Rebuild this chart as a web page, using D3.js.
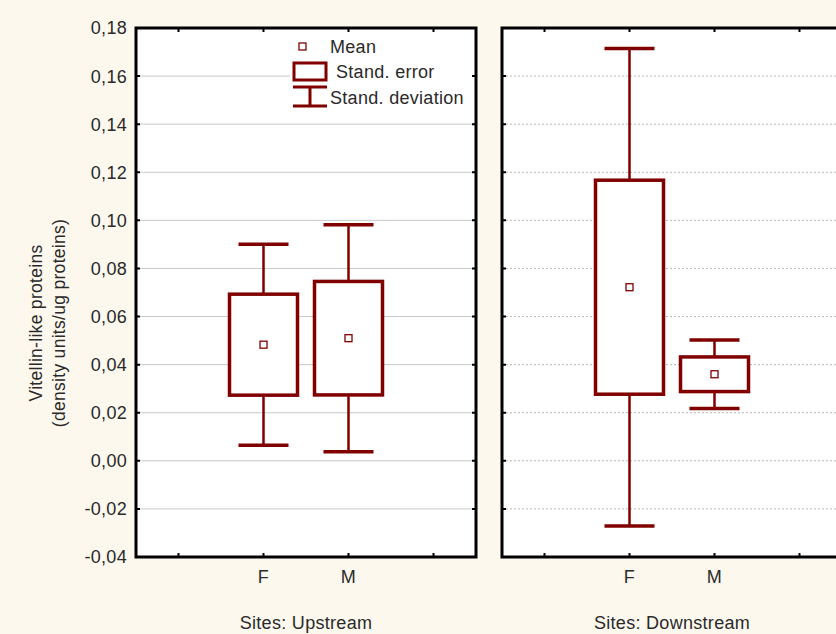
<!DOCTYPE html>
<html>
<head>
<meta charset="utf-8">
<script src="https://cdn.jsdelivr.net/npm/d3@7"></script>
<style>
  html, body { margin: 0; padding: 0; background: #fdf8ee; }
  svg { display: block; }
  text { font-family: "Liberation Sans", Arial, sans-serif; fill: #2a2a2a; font-size: 18px; letter-spacing: 0.3px; }
</style>
</head>
<body>
<svg id="chart" width="836" height="634"></svg>
<script>
// Vitellin-like proteins by site and sex: mean, standard error, standard deviation
const sites = ["Upstream", "Downstream"];
const sexes = ["F", "M"];
const means  = [[0.0483, 0.0510], [0.0722, 0.0360]];
const stdErr = [[0.0210, 0.0236], [0.0445, 0.0072]];
const stdDev = [[0.0418, 0.0472], [0.0993, 0.0142]];
const yTicks = [-0.04, -0.02, 0.00, 0.02, 0.04, 0.06, 0.08, 0.10, 0.12, 0.14, 0.16, 0.18];
const xSlots = ["lo", "F", "M", "hi"];

const red = "#800000";
const svg = d3.select("#chart");

const plotTop = 28, plotBottom = 557, panelW = 340;
const panelLeft = [136, 502];

const y = d3.scaleLinear().domain([-0.04, 0.18]).range([plotBottom, plotTop]);
const locale = d3.formatLocale({decimal: ",", thousands: ".", grouping: [3], currency: ["", ""], minus: "-"});
const fmt = locale.format(".2f");

// y tick labels
svg.append("g").selectAll("text").data(yTicks).join("text")
  .attr("x", 127).attr("y", d => y(d)).attr("dy", "0.36em")
  .attr("text-anchor", "end")
  .text(d => fmt(d));

// y axis title
const yTitle = svg.append("text")
  .attr("transform", "translate(36,323) rotate(-90)")
  .attr("text-anchor", "middle").style("font-size", "17.5px");
yTitle.append("tspan").attr("x", 0).attr("dy", "0.36em").text("Vitellin-like proteins");
yTitle.append("tspan").attr("x", 0).attr("dy", "1.3em").text("(density units/ug proteins)");

sites.forEach((site, si) => {
  const x0 = panelLeft[si];
  const x = d3.scalePoint().domain(xSlots).range([x0, x0 + panelW]).padding(0.5);
  const g = svg.append("g");

  g.append("rect").attr("x", x0).attr("y", plotTop).attr("width", panelW).attr("height", plotBottom - plotTop)
    .attr("fill", "#fff");

  // horizontal grid
  g.append("g").selectAll("line").data(yTicks.slice(1, -1)).join("line")
    .attr("x1", x0).attr("x2", x0 + panelW)
    .attr("y1", d => y(d)).attr("y2", d => y(d))
    .attr("stroke", si === 0 ? "#c9c9c9" : "#b8b8b8")
    .attr("stroke-width", 1)
    .attr("stroke-dasharray", si === 0 ? null : "2,2");

  // inward ticks on left and right edges
  g.append("g").selectAll("path").data(yTicks.slice(1, -1)).join("path")
    .attr("d", d => `M${x0},${y(d)}h4M${x0 + panelW},${y(d)}h-4`)
    .attr("stroke", "#000").attr("stroke-width", 2);

  // inward ticks on top and bottom edges
  g.append("g").selectAll("path").data(xSlots).join("path")
    .attr("d", d => `M${x(d)},${plotTop}v4M${x(d)},${plotBottom}v-4`)
    .attr("stroke", "#000").attr("stroke-width", 2);

  // category labels
  g.append("g").selectAll("text").data(sexes).join("text")
    .attr("x", d => x(d)).attr("y", 577).attr("dy", "0.36em")
    .attr("text-anchor", "middle")
    .text(d => d);

  g.append("text").attr("x", x0 + panelW / 2).attr("y", 623).attr("dy", "0.36em")
    .attr("text-anchor", "middle")
    .text("Sites: " + site);

  // whiskers, SE boxes and means
  const items = sexes.map((s, i) => ({s, m: means[si][i], se: stdErr[si][i], sd: stdDev[si][i]}));
  const boxW = 68, capW = 50;
  const mk = g.append("g").selectAll("g").data(items).join("g");
  mk.append("path")
    .attr("d", d => `M${x(d.s)},${y(d.m + d.sd)}V${y(d.m + d.se)}M${x(d.s)},${y(d.m - d.se)}V${y(d.m - d.sd)}`)
    .attr("stroke", red).attr("stroke-width", 2.5).attr("fill", "none");
  mk.append("path")
    .attr("d", d => `M${x(d.s) - capW / 2},${y(d.m + d.sd)}h${capW}M${x(d.s) - capW / 2},${y(d.m - d.sd)}h${capW}`)
    .attr("stroke", red).attr("stroke-width", 3.5).attr("fill", "none");
  mk.append("rect")
    .attr("x", d => x(d.s) - boxW / 2).attr("width", boxW)
    .attr("y", d => y(d.m + d.se)).attr("height", d => y(d.m - d.se) - y(d.m + d.se))
    .attr("fill", "#fff").attr("stroke", red).attr("stroke-width", 3.5);
  mk.append("rect")
    .attr("x", d => x(d.s) - 3.5).attr("y", d => y(d.m) - 3.5)
    .attr("width", 7).attr("height", 7)
    .attr("fill", "#fff").attr("stroke", red).attr("stroke-width", 1.3);

  // frame
  g.append("rect").attr("x", x0).attr("y", plotTop).attr("width", panelW).attr("height", plotBottom - plotTop)
    .attr("fill", "none").attr("stroke", "#000").attr("stroke-width", 3);
});

// legend
const lg = svg.append("g");
lg.append("rect").attr("x", 290).attr("y", 36).attr("width", 182).attr("height", 74).attr("fill", "#fff");
lg.append("rect").attr("x", 299).attr("y", 43).attr("width", 7).attr("height", 7)
  .attr("fill", "#fff").attr("stroke", red).attr("stroke-width", 1.3);
lg.append("text").attr("x", 330).attr("y", 47).attr("dy", "0.36em").text("Mean");
lg.append("rect").attr("x", 294).attr("y", 63).attr("width", 32).attr("height", 17)
  .attr("fill", "#fff").attr("stroke", red).attr("stroke-width", 3);
lg.append("text").attr("x", 336).attr("y", 72).attr("dy", "0.36em").text("Stand. error");
lg.append("path").attr("d", "M293,87h34M293,106h34M310,87V106")
  .attr("stroke", red).attr("stroke-width", 3).attr("fill", "none");
lg.append("text").attr("x", 330).attr("y", 98).attr("dy", "0.36em").text("Stand. deviation");
</script>
</body>
</html>
